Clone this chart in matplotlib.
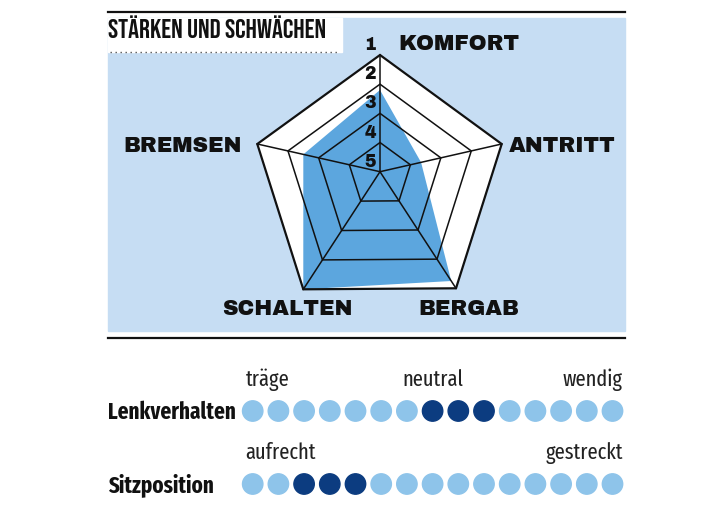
import matplotlib
matplotlib.use("Agg")
import matplotlib.pyplot as plt
from matplotlib.patches import Polygon, Rectangle, Circle
import numpy as np

# --- Daten ---
kategorien = ['KOMFORT', 'ANTRITT', 'BERGAB', 'SCHALTEN', 'BREMSEN']
noten = [2.2, 3.65, 1.25, 1.0, 2.5]          # 1 = beste Note, 5 = schlechteste
skala = ['1', '2', '3', '4', '5']

lenk_labels = ['träge', 'neutral', 'wendig']
lenk_markiert = [7, 8, 9]
sitz_labels = ['aufrecht', 'gestreckt']
sitz_markiert = [2, 3, 4]
n_punkte = 15

# Farben
hellblau = '#c6ddf3'
mittelblau = '#5ca6de'
punkt_hell = '#8ec4ea'
punkt_dunkel = '#0c3c80'
schwarz = '#111111'

schmal = ['Fira Sans Extra Condensed', 'DejaVu Sans']
titel_font = ['Bebas Neue', 'Fira Sans Extra Condensed', 'DejaVu Sans']
breit = ['Archivo Black', 'DejaVu Sans']

fig = plt.figure(figsize=(7.12, 5.32), dpi=100)
ax = fig.add_axes([0, 0, 1, 1])
ax.set_xlim(0, 712)
ax.set_ylim(532, 0)
ax.axis('off')

# Rahmen / Hintergrund
ax.add_patch(Rectangle((108, 18), 517, 313, color=hellblau, zorder=0))
ax.add_patch(Rectangle((108, 18), 234, 34, color='white', zorder=1))
ax.plot([108, 625], [12, 12], color=schwarz, lw=1.6)
ax.plot([108, 625], [338, 338], color=schwarz, lw=1.6)
ax.plot([110, 340], [51.5, 51.5], color='#555555', lw=1.0, ls=(0, (1, 2.6)))
ax.text(108, 38.5, 'STÄRKEN UND SCHWÄCHEN', family=titel_font,
        fontsize=19.5, color=schwarz, va='baseline', ha='left')

# --- Netzdiagramm (unregelmäßiges Fünfeck wie im Original) ---
mitte = np.array([380.0, 171.7])
spitzen = np.array([[0, -116.7], [121.7, -27.7], [76.0, 116.6],
                    [-76.7, 117.6], [-122.7, -27.7]])

def punkte(anteile):
    return mitte + spitzen * np.asarray(anteile)[:, None]

# weißes Außenfünfeck
ax.add_patch(Polygon(punkte([1] * 5), closed=True, facecolor='white',
                     edgecolor='none', zorder=2))
# Werte
anteil = [(5 - n) / 4 for n in noten]
ax.add_patch(Polygon(punkte(anteil), closed=True, facecolor=mittelblau,
                     edgecolor='none', zorder=3))
# Gitter
for k in range(1, 5):
    f = (5 - k) / 4
    ax.add_patch(Polygon(punkte([f] * 5), closed=True, fill=False,
                         edgecolor=schwarz, lw=1.6 if k == 1 else 1.1, zorder=4))
for s in spitzen:
    ax.plot([mitte[0], mitte[0] + s[0]], [mitte[1], mitte[1] + s[1]],
            color=schwarz, lw=1.1, zorder=4)

# Skala
for i, t in enumerate(skala):
    y = mitte[1] - (4 - i) / 4 * 116.7 - 9.5
    ax.text(370, y, t, family=breit, fontsize=12.5,
            color=schwarz, ha='center', va='center', zorder=5)

# Achsenbeschriftungen
lab_kw = dict(family=breit, fontsize=15.5, color=schwarz, va='center', zorder=5)
ax.text(398, 44, kategorien[0], ha='left', **lab_kw)
ax.text(509, 146, kategorien[1], ha='left', **lab_kw)
ax.text(418, 309, kategorien[2], ha='left', **lab_kw)
ax.text(353, 309, kategorien[3], ha='right', **lab_kw)
ax.text(242, 146, kategorien[4], ha='right', **lab_kw)

# --- Punktskalen ---
x0, dx, r = 252.7, 25.7, 10.2
xs = x0 + dx * np.arange(n_punkte)

def reihe(y, markiert):
    for i, x in enumerate(xs):
        farbe = punkt_dunkel if i in markiert else punkt_hell
        ax.add_patch(Circle((x, y), r, color=farbe, zorder=3))

reihe(411, lenk_markiert)
reihe(484, sitz_markiert)

lab_klein = dict(family=schmal, fontsize=16, color='#222222', va='baseline')
ax.text(xs[0] - r + 3, 386, lenk_labels[0], ha='left', **lab_klein)
ax.text(xs[7], 386, lenk_labels[1], ha='center', **lab_klein)
ax.text(xs[-1] + r, 386, lenk_labels[2], ha='right', **lab_klein)
ax.text(xs[0] - r + 3, 459, sitz_labels[0], ha='left', **lab_klein)
ax.text(xs[-1] + r, 459, sitz_labels[1], ha='right', **lab_klein)

lab_fett = dict(family=schmal, fontsize=16.5, fontweight='bold', color=schwarz,
                va='baseline', ha='left')
ax.text(108, 419, 'Lenkverhalten', **lab_fett)
ax.text(108, 492, 'Sitzposition', **lab_fett)

fig.savefig('out.png', dpi=100, facecolor='white')
